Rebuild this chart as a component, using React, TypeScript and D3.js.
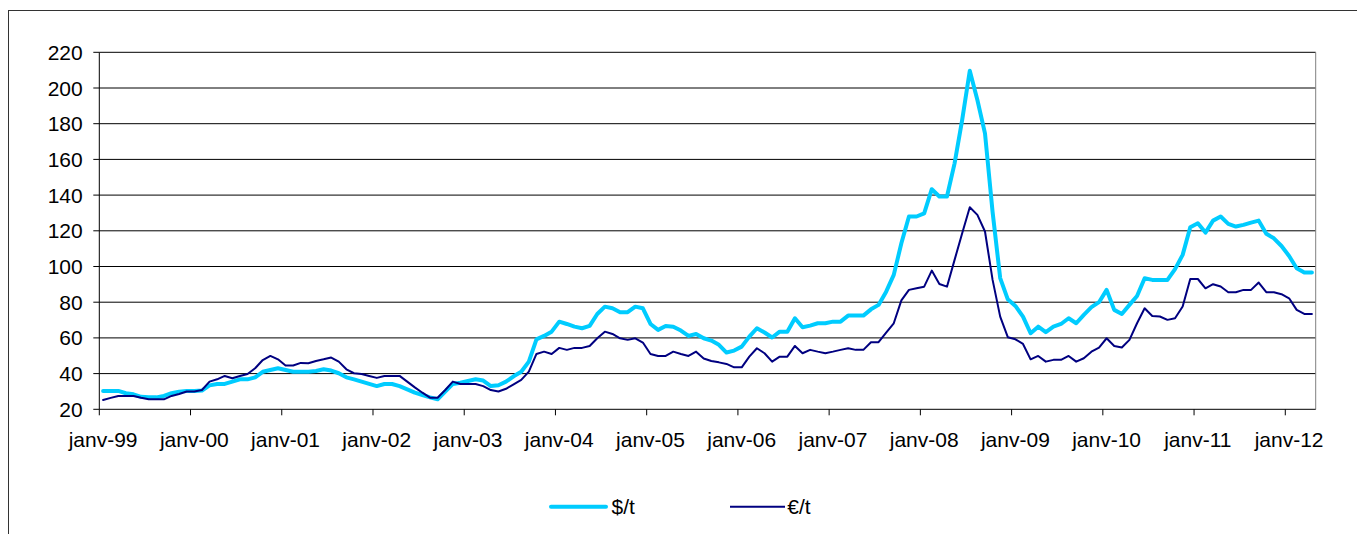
import React from "react";
import * as d3 from "d3";

// Monthly categories: janv-1999 .. avr-2012 (160 months)
const months: Date[] = d3.timeMonth.range(new Date(1999, 0, 1), new Date(2012, 4, 1));

const yearLabels = [
  "janv-99", "janv-00", "janv-01", "janv-02", "janv-03", "janv-04", "janv-05",
  "janv-06", "janv-07", "janv-08", "janv-09", "janv-10", "janv-11", "janv-12",
];

const yTicks = [20, 40, 60, 80, 100, 120, 140, 160, 180, 200, 220];

// $/t
const usdPerTon = [
  30.3, 30.3, 30.3, 29, 28.4, 27, 26.7, 26.7, 27.5, 29, 29.9, 30.3,
  30.3, 30.5, 33.4, 34.2, 34.2, 35.5, 36.8, 36.8, 37.9, 41, 42, 43,
  42, 41, 41, 41.1, 41.5, 42.4, 41.7, 40.2, 37.9, 36.8, 35.5, 34.2,
  33, 34.2, 34.2, 33, 31.2, 29.3, 28, 26.7, 25.6, 29.9, 34.2, 34.9,
  35.9, 36.8, 36.1, 33, 33.5, 35.5, 38.5, 41, 46.7, 59.2, 61.1, 63.5,
  69.1, 67.8, 66.3, 65.4, 66.7, 73.4, 77.5, 76.6, 74.4, 74.4, 77.5, 76.6,
  67.8, 64.5, 66.7, 66.3, 64.1, 61.1, 62.2, 59.8, 58.5, 56.1, 51.8, 52.9,
  55.1, 60.7, 65.4, 63, 60.2, 63.5, 63.5, 71, 66, 66.9, 68.2, 68.2,
  69.1, 69.1, 72.5, 72.5, 72.5, 76, 78.5, 85.9, 95.3, 113, 128, 128,
  129.8, 143.3, 139.2, 139.2, 157.8, 182.1, 209.7, 193.3, 174.6, 130.5, 93.5, 81.6,
  77.9, 71.9, 62.6, 66.3, 63.2, 66.3, 67.8, 71, 68.2, 72.9, 77.2, 80,
  86.9, 75.7, 73.4, 78.5, 83.5, 93.4, 92.5, 92.5, 92.5, 98.5, 106.5, 122,
  124.2, 119, 125.7, 128, 123.9, 122.4, 123.3, 124.6, 125.7, 118.3, 115.8, 111.5,
  105.9, 99, 96.6, 96.6,
];

// €/t
const eurPerTon = [
  25.2, 26.4, 27.5, 27.5, 27.5, 26.5, 25.6, 25.6, 25.6, 27.5, 28.6, 30,
  30, 30.8, 35.5, 36.8, 38.7, 37.4, 38.7, 39.8, 43, 47.6, 49.9, 48,
  44.5, 44.5, 46, 45.8, 47.1, 48, 49, 46.7, 42.4, 40.2, 39.8, 38.7,
  37.6, 38.7, 38.7, 38.7, 35.5, 32.3, 29.3, 26.5, 26.5, 30.8, 35.5, 34.2,
  34.2, 34.2, 33, 30.8, 30, 31.5, 34, 36.5, 41.1, 51, 52.3, 51,
  54.4, 53.3, 54.4, 54.4, 55.5, 59.8, 63.5, 62.2, 59.8, 58.9, 59.8, 57.4,
  51, 49.9, 49.9, 52.3, 51, 49.9, 52.3, 48.5, 47.1, 46.3, 45.4, 43.5,
  43.5, 49.5, 54.2, 51.4, 46.7, 49.5, 49.5, 55.5, 51.4, 53.3, 52.3, 51.4,
  52.3, 53.3, 54.2, 53.3, 53.3, 57.6, 57.6, 63, 68.2, 81, 86.9, 87.8,
  88.7, 97.7, 90.2, 88.7, 103.7, 118.6, 133.2, 128.9, 119.6, 92.5, 71.9, 60.4,
  59.2, 56.6, 48, 49.9, 46.7, 47.7, 47.7, 49.9, 46.7, 48.6, 52.3, 54.6,
  59.8, 55.5, 54.6, 58.9, 68.2, 76.6, 72.3, 72, 70.1, 71, 77.6, 93,
  93, 87.8, 90.1, 88.8, 85.6, 85.6, 86.9, 86.9, 91, 85.6, 85.6, 84.5,
  82.2, 75.7, 73.4, 73.4,
];

const W = 1357;
const H = 534;
const plot = { left: 99.3, right: 1315.7, top: 52.3, bottom: 409.3 };
const LIGHT = "#00CCFF";
const DARK = "#000080";
const FONT = "'Liberation Sans', Arial, sans-serif";
const FS = 21;

export default function App() {
  const x = d3
    .scaleBand<number>()
    .domain(months.map((_, i) => i))
    .range([plot.left, plot.right])
    .paddingInner(0)
    .paddingOuter(0);
  const bw = x.bandwidth();
  const cx = (i: number) => (x(i) as number) + bw / 2;
  const y = d3.scaleLinear().domain([20, 220]).range([plot.bottom, plot.top]);

  const line = d3
    .line<number>()
    .x((_, i) => cx(i))
    .y((d) => y(d));

  const januaryIdx = months.map((m, i) => (m.getMonth() === 0 ? i : -1)).filter((i) => i >= 0);

  return (
    <svg
      width={W}
      height={H}
      style={{ position: "absolute", left: 0, top: 0, display: "block", background: "#fff" }}
      fontFamily={FONT}
    >
      {/* outer frame */}
      <rect x={8.5} y={10.5} width={W + 20} height={H + 20} fill="#fff" stroke="#333" strokeWidth={1} />

      {/* gridlines */}
      {yTicks
        .filter((t) => t > 20)
        .map((t) => (
          <line key={"g" + t} x1={plot.left} x2={plot.right} y1={y(t)} y2={y(t)} stroke="#000" strokeWidth={1} />
        ))}
      {/* right border of plot */}
      <line x1={plot.right} x2={plot.right} y1={plot.top} y2={plot.bottom} stroke="#808080" strokeWidth={1} />

      {/* y axis */}
      <line x1={plot.left} x2={plot.left} y1={plot.top} y2={plot.bottom} stroke="#000" strokeWidth={1} />
      {yTicks.map((t) => (
        <g key={"y" + t}>
          <line x1={plot.left - 6} x2={plot.left} y1={y(t)} y2={y(t)} stroke="#000" strokeWidth={1} />
          <text x={82.7} y={y(t)} dy="0.36em" textAnchor="end" fontSize={FS} fill="#000">
            {t}
          </text>
        </g>
      ))}

      {/* x axis */}
      <line x1={plot.left} x2={plot.right} y1={plot.bottom} y2={plot.bottom} stroke="#000" strokeWidth={1} />
      {januaryIdx.map((i, k) => (
        <g key={"x" + i}>
          <line x1={x(i) as number} x2={x(i) as number} y1={plot.bottom} y2={plot.bottom + 6} stroke="#000" strokeWidth={1} />
          <text x={cx(i)} y={446.5} textAnchor="middle" fontSize={FS} fill="#000">
            {yearLabels[k]}
          </text>
        </g>
      ))}

      {/* series */}
      <path d={line(usdPerTon) || ""} fill="none" stroke={LIGHT} strokeWidth={4} strokeLinejoin="round" strokeLinecap="round" />
      <path d={line(eurPerTon) || ""} fill="none" stroke={DARK} strokeWidth={2} strokeLinejoin="round" strokeLinecap="round" />

      {/* legend */}
      <line x1={551} x2={606} y1={506.7} y2={506.7} stroke={LIGHT} strokeWidth={4} strokeLinecap="round" />
      <text x={611.5} y={514} fontSize={FS} fill="#000">
        $/t
      </text>
      <line x1={730} x2={785} y1={506.7} y2={506.7} stroke={DARK} strokeWidth={2} />
      <text x={787.3} y={514} fontSize={FS} fill="#000">
        €/t
      </text>
    </svg>
  );
}
